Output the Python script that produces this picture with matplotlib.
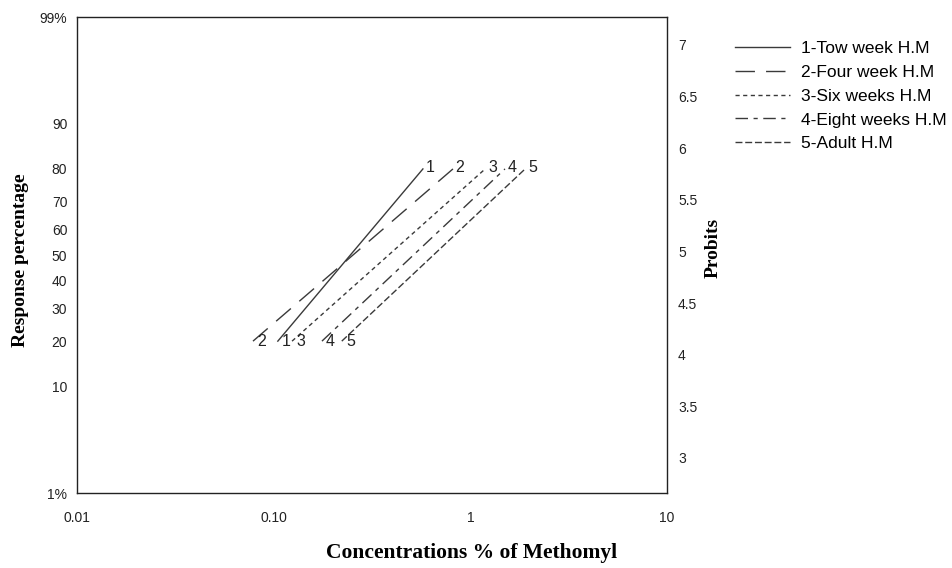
import matplotlib.pyplot as plt
from statistics import NormalDist

# Datos (concentracion %, respuesta %)
series = ["1-Tow week H.M", "2-Four week H.M", "3-Six weeks H.M",
          "4-Eight weeks H.M", "5-Adult H.M"]
numeros = ["1", "2", "3", "4", "5"]
conc_baja = [0.105, 0.0785, 0.124, 0.176, 0.222]
conc_alta = [0.574, 0.816, 1.19, 1.50, 1.90]
resp_baja = [20, 20, 20, 20, 20]
resp_alta = [80, 80, 80, 80, 80]

pct_ticks = [1, 10, 20, 30, 40, 50, 60, 70, 80, 90, 99]
pct_labels = ["1%", "10", "20", "30", "40", "50", "60", "70", "80", "90", "99%"]
probit_ticks = [3, 3.5, 4, 4.5, 5, 5.5, 6, 6.5, 7]
x_ticks = [0.01, 0.1, 1, 10]
x_labels = ["0.01", "0.10", "1", "10"]

def probit(p):
    return 5 + NormalDist().inv_cdf(p / 100.0)

estilos = ["-", (0, (14, 8)), (0, (3, 2.5)), (0, (9, 4, 3, 4)), (0, (5, 2))]
color = "#3a3a3a"

plt.rcParams['font.family'] = ['Liberation Sans', 'DejaVu Sans']

fig = plt.figure(figsize=(9.52, 5.68), dpi=100)
ax = fig.add_axes([0.0809, 0.132, 0.6197, 0.838])

for i in range(len(series)):
    ax.plot([conc_baja[i], conc_alta[i]],
            [probit(resp_baja[i]), probit(resp_alta[i])],
            linestyle=estilos[i], color=color, linewidth=1, label=series[i])
    ax.annotate(numeros[i], (conc_baja[i], probit(resp_baja[i])),
                xytext=(3, 0), textcoords="offset points",
                ha="left", va="center", fontsize=11.5, color="#222222")
    ax.annotate(numeros[i], (conc_alta[i], probit(resp_alta[i])),
                xytext=(2, 1), textcoords="offset points",
                ha="left", va="center", fontsize=11.5, color="#222222")

ax.set_xscale("log")
ax.set_xlim(0.01, 10)
ax.set_ylim(probit(1), probit(99))
ax.set_xticks(x_ticks)
ax.set_xticklabels(x_labels)
ax.minorticks_off()
ax.set_yticks([probit(p) for p in pct_ticks])
ax.set_yticklabels(pct_labels)
ax.tick_params(axis="x", length=0, pad=13, labelsize=10, labelcolor="#222222")
ax.tick_params(axis="y", length=0, pad=7, labelsize=10, labelcolor="#222222")
for s in ax.spines.values():
    s.set_color("#222222")
    s.set_linewidth(1)

ax2 = ax.twinx()
ax2.set_ylim(2.66, 7.27)
ax2.set_yticks(probit_ticks)
ax2.set_yticklabels([f"{v:g}" for v in probit_ticks])
ax2.tick_params(axis="y", length=0, pad=8, labelsize=10, labelcolor="#222222")
for s in ax2.spines.values():
    s.set_visible(False)

ax.set_ylabel("Response percentage", family="Liberation Serif",
              fontweight="bold", fontsize=14)
ax.yaxis.set_label_coords(-0.082, 0.49)
ax2.set_ylabel("Probits", family="Liberation Serif", fontweight="bold",
               fontsize=14)
ax2.yaxis.set_label_coords(1.064, 0.515)
ax.set_xlabel("Concentrations % of Methomyl", family="Liberation Serif",
              fontweight="bold", fontsize=15.5)
ax.xaxis.set_label_coords(0.668, -0.105)

handles, labels = ax.get_legend_handles_labels()
fig.legend(handles, labels, loc="upper left", bbox_to_anchor=(0.772, 0.928),
           frameon=False, fontsize=12.5, handlelength=3.2, handletextpad=0.6,
           labelspacing=0.5, borderpad=0, borderaxespad=0)

fig.savefig("out.png", dpi=100)
